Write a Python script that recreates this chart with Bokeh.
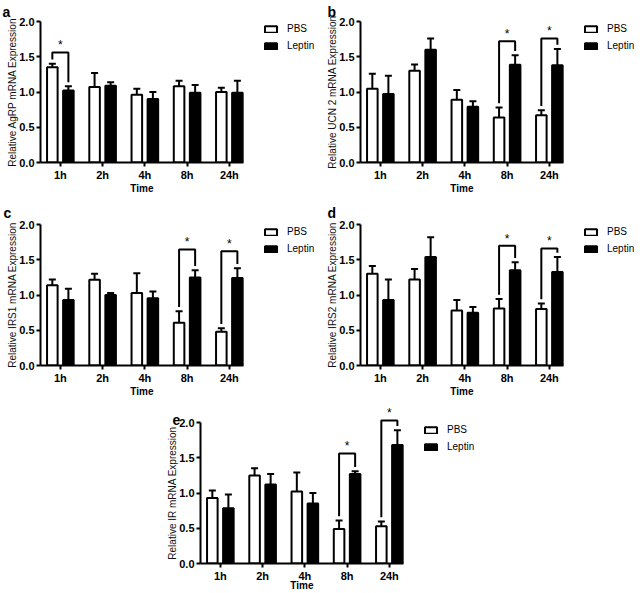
import numpy as np
from bokeh.plotting import figure
from bokeh.models import (ColumnDataSource, Whisker, TeeHead, Legend, LegendItem,
                          FixedTicker, Range1d, Spacer)
from bokeh.layouts import column, row
from bokeh.core.properties import value
from bokeh.embed import file_html
from bokeh.resources import INLINE

# ---------------- data ----------------
times = ["1h", "2h", "4h", "8h", "24h"]
groups = ["PBS", "Leptin"]
y_ticks = [0.0, 0.5, 1.0, 1.5, 2.0]
x_title = "Time"

a_label = "Relative AgRP mRNA Expression"
a_pbs = [1.35, 1.07, 0.96, 1.08, 1.00]
a_pbs_err = [0.05, 0.20, 0.085, 0.08, 0.06]
a_lep = [1.02, 1.09, 0.90, 0.99, 0.99]
a_lep_err = [0.06, 0.05, 0.10, 0.11, 0.17]
a_sig = [0]
a_bracket = [1.56]

b_label = "Relative UCN 2 mRNA Expression"
b_pbs = [1.045, 1.30, 0.89, 0.64, 0.67]
b_pbs_err = [0.215, 0.09, 0.14, 0.14, 0.07]
b_lep = [0.97, 1.60, 0.79, 1.385, 1.38]
b_lep_err = [0.26, 0.16, 0.08, 0.135, 0.23]
b_sig = [3, 4]
b_bracket = [1.72, 1.76]

c_label = "Relative IRS1 mRNA Expression"
c_pbs = [1.14, 1.215, 1.03, 0.605, 0.48]
c_pbs_err = [0.08, 0.085, 0.28, 0.165, 0.05]
c_lep = [0.93, 1.00, 0.955, 1.25, 1.24]
c_lep_err = [0.16, 0.03, 0.095, 0.10, 0.14]
c_sig = [3, 4]
c_bracket = [1.645, 1.62]

d_label = "Relative IRS2 mRNA Expression"
d_pbs = [1.30, 1.22, 0.78, 0.81, 0.80]
d_pbs_err = [0.11, 0.15, 0.15, 0.135, 0.08]
d_lep = [0.93, 1.54, 0.75, 1.35, 1.325]
d_lep_err = [0.29, 0.28, 0.08, 0.115, 0.215]
d_sig = [3, 4]
d_bracket = [1.70, 1.66]

e_label = "Relative IR mRNA Expression"
e_pbs = [0.93, 1.25, 1.02, 0.49, 0.53]
e_pbs_err = [0.105, 0.10, 0.27, 0.12, 0.065]
e_lep = [0.785, 1.12, 0.85, 1.27, 1.68]
e_lep_err = [0.195, 0.15, 0.15, 0.04, 0.21]
e_sig = [3, 4]
e_bracket = [1.56, 2.03]

# ---------------- styling ----------------
FONT = "Liberation Sans"
PX_PER_UNIT = 42.25      # px per time group
PX_PER_Y = 70.5
FRAME_H = 159
FIG_W = 320
BORDER_L = 40
X0 = -0.47
X_AXIS_END = 4.33
Y_AXIS_END = 2.0
Y_END = FRAME_H / PX_PER_Y
OFF = 0.19
BAR_W = 0.25


def make_panel(letter, ylabel, pbs, pbs_err, lep, lep_err, sig, bracket,
               top, bottom, letter_dx, letter_y, xtitle_dy):
    frame_w = FIG_W - BORDER_L
    x_end = X0 + frame_w / PX_PER_UNIT
    p = figure(width=FIG_W, height=top + FRAME_H + bottom,
               x_range=Range1d(X0, x_end), y_range=Range1d(0, Y_END),
               output_backend="svg", toolbar_location=None,
               min_border_left=BORDER_L, min_border_right=0,
               min_border_top=top, min_border_bottom=bottom)
    p.outline_line_color = None
    p.xgrid.visible = False
    p.ygrid.visible = False
    p.background_fill_color = "white"

    idx = np.arange(len(times), dtype=float)
    pbs = np.array(pbs); lep = np.array(lep)
    pbs_err = np.array(pbs_err); lep_err = np.array(lep_err)
    src_p = ColumnDataSource(dict(x=idx - OFF, top=pbs, up=pbs + pbs_err))
    src_l = ColumnDataSource(dict(x=idx + OFF, top=lep, up=lep + lep_err))

    for src in (src_p, src_l):
        w = Whisker(base="x", lower="top", upper="up", source=src,
                    dimension="height", lower_head=None,
                    upper_head=TeeHead(size=7, line_width=2, line_color="black"),
                    line_width=2, line_color="black", level="glyph")
        p.add_layout(w)

    rp = p.vbar(x="x", top="top", width=BAR_W, bottom=0, source=src_p,
                fill_color="white", line_color="black", line_width=2)
    rl = p.vbar(x="x", top="top", width=BAR_W, bottom=0, source=src_l,
                fill_color="black", line_color="black", line_width=2)

    # significance brackets
    xs, ys, sx, sy = [], [], [], []
    for i, lvl in zip(sig, bracket):
        up_p = pbs[i] + pbs_err[i]
        up_l = lep[i] + lep_err[i]
        xs.append([i - OFF, i - OFF, i + OFF, i + OFF])
        ys.append([up_p + 0.06, lvl, lvl, up_l + 0.06])
        sx.append(float(i))
        sy.append(lvl + 0.1)
    p.multi_line(xs=xs, ys=ys, line_color="black", line_width=2)
    p.text(x=sx, y=sy, text=["*"] * len(sx), text_align="center",
           text_baseline="alphabetic", text_font=value(FONT),
           text_font_size="12px", text_color="black", level="overlay")

    # axes
    for ax in (p.xaxis[0], p.yaxis[0]):
        ax.axis_line_width = 2
        ax.axis_line_color = "black"
        ax.major_tick_line_width = 2
        ax.major_tick_line_color = "black"
        ax.major_tick_in = 0
        ax.major_tick_out = 4
        ax.minor_tick_line_color = None
        ax.major_label_text_font = FONT
        ax.major_label_text_font_style = "bold"
        ax.major_label_text_font_size = "11px"
        ax.major_label_text_color = "black"
        ax.major_label_standoff = 2

    p.xaxis.ticker = FixedTicker(ticks=list(idx))
    p.xaxis.major_label_overrides = {float(i): t for i, t in enumerate(times)}
    p.xaxis.bounds = (X0, X_AXIS_END)

    p.yaxis.ticker = FixedTicker(ticks=y_ticks)
    p.yaxis.major_label_overrides = {t: f"{t:.1f}" for t in y_ticks}
    p.yaxis.bounds = (0, Y_AXIS_END)

    # axis titles, centred on the drawn (bounded) axis extents
    p.text(x=[X0 - 28 / PX_PER_UNIT], y=[Y_AXIS_END / 2], text=[ylabel],
           angle=np.pi / 2, text_align="center", text_baseline="middle",
           text_font=value(FONT), text_font_size="10px", text_color="#111111",
           level="overlay")
    p.text(x=[(X0 + X_AXIS_END) / 2], y=[-xtitle_dy / PX_PER_Y], text=[x_title],
           text_align="center", text_baseline="middle",
           text_font=value(FONT), text_font_style="bold", text_font_size="10px",
           text_color="black", level="overlay")

    legend = Legend(items=[LegendItem(label=groups[0], renderers=[rp]),
                           LegendItem(label=groups[1], renderers=[rl])],
                    location=(223, 111), padding=0, margin=0, spacing=6,
                    glyph_width=15, glyph_height=8, label_height=9,
                    label_standoff=9, border_line_color=None,
                    background_fill_alpha=0,
                    label_text_font=FONT, label_text_font_size="10px",
                    label_text_color="black")
    p.add_layout(legend)

    # panel letter (overlay level so it is not clipped to the plot frame)
    lx = X0 + letter_dx / PX_PER_UNIT
    p.text(x=[lx], y=[letter_y], text=[letter], level="overlay",
           text_font=value(FONT), text_font_style="bold",
           text_font_size="14px", text_color="black",
           text_baseline="alphabetic")
    return p


pa = make_panel("a", a_label, a_pbs, a_pbs_err, a_lep, a_lep_err, a_sig, a_bracket,
                3, 36, -38, 2.14, 26)
pb = make_panel("b", b_label, b_pbs, b_pbs_err, b_lep, b_lep_err, b_sig, b_bracket,
                3, 36, -33, 2.13, 26)
pc = make_panel("c", c_label, c_pbs, c_pbs_err, c_lep, c_lep_err, c_sig, c_bracket,
                8, 36, -37, 2.16, 26)
pd = make_panel("d", d_label, d_pbs, d_pbs_err, d_lep, d_lep_err, d_sig, d_bracket,
                8, 36, -33, 2.16, 26)
pe = make_panel("e", e_label, e_pbs, e_pbs_err, e_lep, e_lep_err, e_sig, e_bracket,
                3, 30, -28, 2.03, 22)

layout = column(row(pa, pb), row(pc, pd), row(Spacer(width=160, height=10), pe))

with open("out.html", "w") as f:
    f.write(file_html(layout, INLINE))
